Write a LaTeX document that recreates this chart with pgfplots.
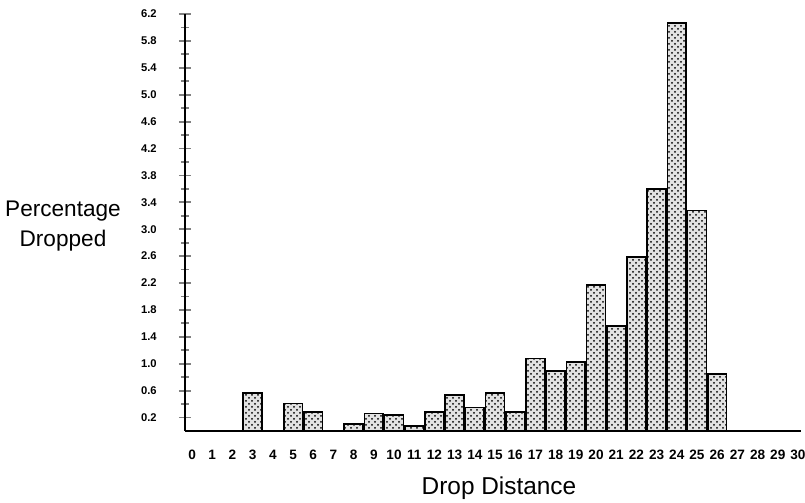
\documentclass[border=0pt]{standalone}
\usepackage{fontspec}
\setmainfont{Liberation Sans}
\usepackage{pgfplots}
\pgfplotsset{compat=1.18}
\usetikzlibrary{patterns}
\begin{document}
\begin{tikzpicture}
\useasboundingbox (0,0) rectangle (402.5pt,251.5pt);
\begin{axis}[
  at={(92.5pt,36pt)}, anchor=south west,
  scale only axis, width=308pt, height=208.5pt,
  xmin=-0.35, xmax=30.15, ymin=0, ymax=6.2,
  axis x line*=bottom, axis y line*=left,
  axis line style={line width=1.1pt},
  xtick={0,1,...,30},
  xtick style={draw=none},
  ytick={0.2,0.6,...,6.3},
  minor ytick={0.4,0.8,...,6.1},
  tick align=center,
  major tick length=6pt, minor tick length=4pt,
  ytick style={line width=0.9pt},
  minor tick style={line width=0.8pt},
  /pgf/number format/assume math mode=true,
  yticklabel style={/pgf/number format/fixed, /pgf/number format/fixed zerofill, /pgf/number format/precision=1,
     font=\fontsize{5.6}{6}\selectfont\bfseries, anchor=east, inner sep=0pt, xshift=-11pt},
  xticklabel style={font=\fontsize{6.8}{7}\selectfont\bfseries, anchor=north, inner sep=0pt, yshift=-3.5pt},
  ybar, bar width=0.93,
]
\addplot[draw=black, line width=0.85pt, fill=gray!22, postaction={pattern=crosshatch dots}] coordinates {
(3,0.56) (5,0.41) (6,0.28) (8,0.10) (9,0.26) (10,0.24) (11,0.07) (12,0.28)
(13,0.53) (14,0.35) (15,0.56) (16,0.28) (17,1.08) (18,0.89) (19,1.03)
(20,2.17) (21,1.56) (22,2.59) (23,3.60) (24,6.07) (25,3.28) (26,0.85)
};
\end{axis}
\node[align=center, font=\fontsize{11.3}{15}\selectfont] at (31.5pt,138.25pt) {Percentage\\Dropped};
\node[anchor=base, font=\fontsize{12.2}{14}\selectfont] at (249.5pt,4pt) {Drop Distance};
\end{tikzpicture}
\end{document}
